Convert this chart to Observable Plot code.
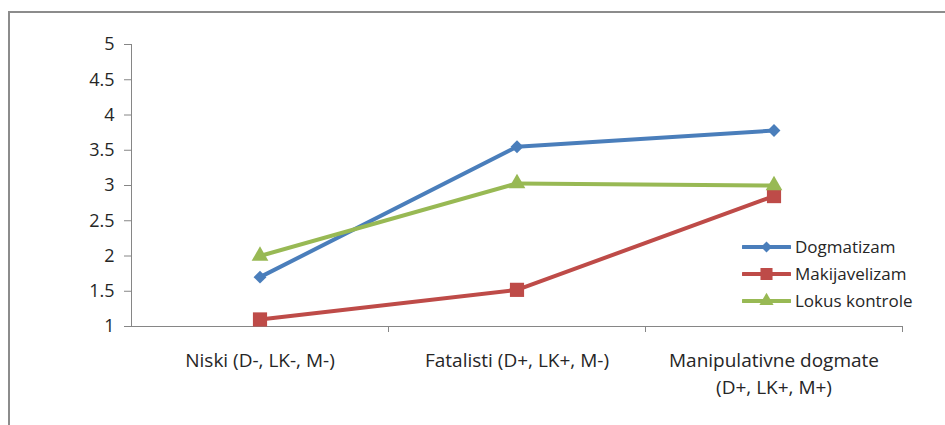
<!DOCTYPE html>
<html>
<head>
<meta charset="utf-8">
<script src="https://cdn.jsdelivr.net/npm/d3@7"></script>
<script src="https://cdn.jsdelivr.net/npm/@observablehq/plot@0.6"></script>
<style>
  html, body { margin: 0; padding: 0; background: #fff; overflow: hidden; }
  body { position: relative; width: 945px; height: 425px; font-family: "Open Sans", sans-serif; }
  #frame { position: absolute; left: 8px; top: 11px; width: 2000px; height: 2000px; border: 2px solid #8c8c8c; pointer-events: none; }
  #chart { position: absolute; left: 0; top: 0; }
  #legend { position: absolute; left: 742px; top: 233px; font-size: 17px; color: #262626; }
  #legend .row { display: flex; align-items: center; height: 27px; }
  #legend svg { margin-right: 4px; }
</style>
</head>
<body>
<div id="chart"></div>
<div id="legend"></div>
<div id="frame"></div>
<script>
const categories = ["Niski (D-, LK-, M-)", "Fatalisti (D+, LK+, M-)", "Manipulativne dogmate\n(D+, LK+, M+)"];
const seriesNames = ["Dogmatizam", "Makijavelizam", "Lokus kontrole"];
const dogmatizam = [1.7, 3.55, 3.78];
const makijavelizam = [1.1, 1.52, 2.85];
const lokusKontrole = [2.0, 3.03, 3.0];
const yTicks = [1, 1.5, 2, 2.5, 3, 3.5, 4, 4.5, 5];
const seriesColors = ["#4a7ebb", "#be4b48", "#98b954"];
const seriesSymbols = ["diamond2", "square", "triangle"];
const seriesR = [5.8, 8, 6.2];

const values = [dogmatizam, makijavelizam, lokusKontrole];
const rows = [];
seriesNames.forEach((s, si) => {
  values[si].forEach((v, i) => rows.push({series: s, si, idx: i + 0.5, value: v}));
});
const catRows = categories.map((c, i) => ({label: c, idx: i + 0.5}));
const boundaries = d3.range(1, categories.length + 1);

const axisGray = "#868686";
const textColor = "#262626";

const marks = [
  Plot.ruleY([1], {x1: 0, x2: categories.length, stroke: axisGray, strokeWidth: 1}),
  Plot.ruleX([0], {y1: 1, y2: 5, stroke: axisGray, strokeWidth: 1}),
  Plot.axisY({ticks: yTicks, tickSize: 7, tickPadding: 10, stroke: axisGray, fill: textColor, fontSize: 18, label: null, tickFormat: d => String(d)}),
  Plot.axisX({ticks: boundaries, tickSize: 6, tickFormat: () => "", label: null, stroke: axisGray}),
  Plot.text(catRows, {x: "idx", y: () => 1, text: "label", dy: 21, fill: textColor, fontSize: 19, lineHeight: 1.42, lineAnchor: "top"})
];
seriesNames.forEach((s, si) => {
  const d = rows.filter(r => r.si === si);
  marks.push(Plot.line(d, {x: "idx", y: "value", stroke: seriesColors[si], strokeWidth: 4}));
  marks.push(Plot.dot(d, {x: "idx", y: "value", symbol: () => seriesSymbols[si], fill: seriesColors[si], stroke: "none", r: seriesR[si]}));
});

const chart = Plot.plot({
  width: 945,
  height: 425,
  marginLeft: 131,
  marginRight: 43,
  marginTop: 44,
  marginBottom: 99,
  style: {fontFamily: "Open Sans, sans-serif", background: "transparent"},
  x: {domain: [0, categories.length], axis: null},
  y: {domain: [1, 5], axis: null},
  symbol: {type: "identity"},
  marks
});
document.getElementById("chart").appendChild(chart);

// legend
const legend = d3.select("#legend");
seriesNames.forEach((s, si) => {
  const row = legend.append("div").attr("class", "row");
  const svg = row.append("svg").attr("width", 49).attr("height", 20);
  svg.append("line").attr("x1", 1).attr("x2", 48).attr("y1", 10).attr("y2", 10)
    .attr("stroke", seriesColors[si]).attr("stroke-width", 4).attr("stroke-linecap", "round");
  const sym = {diamond2: d3.symbolDiamond2, square: d3.symbolSquare, triangle: d3.symbolTriangle}[seriesSymbols[si]];
  const r = seriesR[si] * 0.85;
  svg.append("path").attr("transform", "translate(24.5,10)")
    .attr("d", d3.symbol(sym, r * r * Math.PI)()).attr("fill", seriesColors[si]);
  row.append("span").text(s);
});
</script>
</body>
</html>
